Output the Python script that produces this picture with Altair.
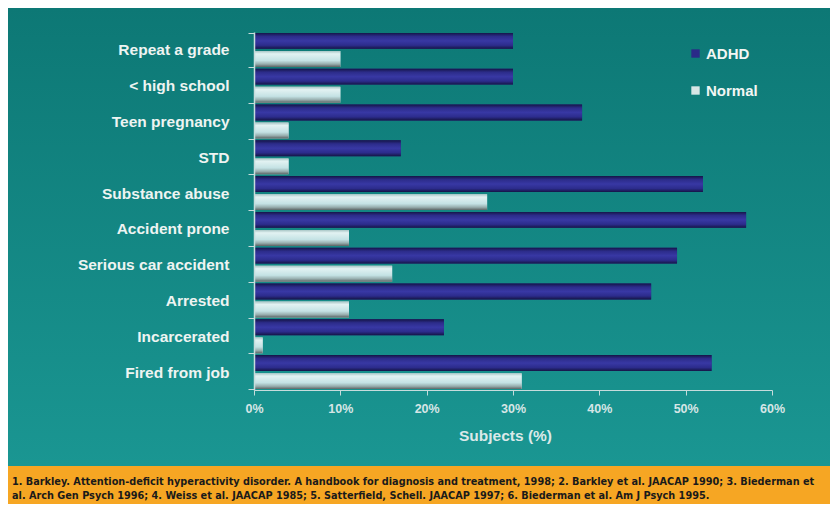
import altair as alt
import pandas as pd

categories = ["Repeat a grade", "< high school", "Teen pregnancy", "STD", "Substance abuse",
              "Accident prone", "Serious car accident", "Arrested", "Incarcerated", "Fired from job"]
adhd = [30, 30, 38, 17, 52, 57, 49, 46, 22, 53]
normal = [10, 10, 4, 4, 27, 11, 16, 11, 1, 31]
series = ["ADHD", "Normal"]
x_ticks = [0, 10, 20, 30, 40, 50, 60]

footer_lines = [
    "1. Barkley. Attention-deficit hyperactivity disorder. A handbook for diagnosis and treatment, 1998; 2. Barkley et al. JAACAP 1990; 3. Biederman et",
    "al. Arch Gen Psych 1996; 4. Weiss et al. JAACAP 1985; 5. Satterfield, Schell. JAACAP 1997; 6. Biederman et al. Am J Psych 1995.",
]

rows = []
for c, a, n in zip(categories, adhd, normal):
    rows.append({"cat": c, "series": "ADHD", "val": a})
    rows.append({"cat": c, "series": "Normal", "val": n})
df = pd.DataFrame(rows)

W, H = 518, 358
PL, PT, PR, PB = 246, 24, 58, 114

y_enc = alt.Y("cat:N", sort=categories, title=None,
              scale=alt.Scale(paddingInner=0.05, paddingOuter=0.025),
              axis=alt.Axis(tickBand="extent", labelPadding=19, tickSize=6, zindex=2))
yoff_enc = alt.YOffset("series:N", sort=series, scale=alt.Scale(paddingInner=0.12, paddingOuter=0.0))
x_enc = alt.X("val:Q", title="Subjects (%)",
              scale=alt.Scale(domain=[0, 60], nice=False),
              axis=alt.Axis(values=x_ticks, labelExpr="datum.value + '%'", grid=False,
                            labelFlush=False, tickSize=5, labelPadding=7, titlePadding=14,
                            titleX=251, zindex=2))

one = pd.DataFrame({"a": [0]})

bg = alt.Chart(one).mark_rect(
    color=alt.Gradient(gradient="linear", x1=0, x2=0, y1=0, y2=1,
                       stops=[alt.GradientStop(color="#0d7875", offset=0),
                              alt.GradientStop(color="#1a9692", offset=1)])
).encode(x=alt.value(-PL), x2=alt.value(W + PR), y=alt.value(-PT), y2=alt.value(434))

footer = alt.Chart(one).mark_rect(color="#f6a623").encode(
    x=alt.value(-PL), x2=alt.value(W + PR), y=alt.value(434), y2=alt.value(H + PB))

footer_font = "Liberation Sans Narrow, DejaVu Sans Condensed, Liberation Sans, sans-serif"
footer_l1 = alt.Chart(pd.DataFrame({"t": [footer_lines[0]]})).mark_text(
    align="left", baseline="middle", font=footer_font, fontSize=10.8,
    fontWeight="bold", color="#1a1a1a"
).encode(x=alt.value(-PL + 4), y=alt.value(450), text="t:N")
footer_l2 = alt.Chart(pd.DataFrame({"t": [footer_lines[1]]})).mark_text(
    align="left", baseline="middle", font=footer_font, fontSize=10.8,
    fontWeight="bold", color="#1a1a1a"
).encode(x=alt.value(-PL + 4), y=alt.value(464), text="t:N")

base = alt.Chart(df).mark_bar().encode(
    y=y_enc, yOffset=yoff_enc, x=x_enc,
    color=alt.Color("series:N", sort=series,
                    scale=alt.Scale(domain=series, range=["#2a2a88", "#d6e6e6"]),
                    legend=alt.Legend(title=None, orient="none", legendX=434, legendY=14,
                                      symbolType="square", symbolSize=70, rowPadding=21,
                                      labelFontSize=15, labelFontWeight="bold",
                                      labelColor="#f2f6f4", labelFont="Liberation Sans",
                                      symbolStrokeWidth=0, labelOffset=3, padding=0)),
)

adhd_grad = alt.Chart(df).transform_filter(alt.datum.series == "ADHD").mark_bar(
    color=alt.Gradient(gradient="linear", x1=0, x2=0, y1=0, y2=1,
                       stops=[alt.GradientStop(color="#151548", offset=0),
                              alt.GradientStop(color="#2c2c8a", offset=0.22),
                              alt.GradientStop(color="#3838a4", offset=0.5),
                              alt.GradientStop(color="#2c2c8c", offset=0.78),
                              alt.GradientStop(color="#151545", offset=1)])
).encode(y=y_enc, yOffset=yoff_enc, x=x_enc)

normal_grad = alt.Chart(df).transform_filter(alt.datum.series == "Normal").mark_bar(
    color=alt.Gradient(gradient="linear", x1=0, x2=0, y1=0, y2=1,
                       stops=[alt.GradientStop(color="#a9c6c6", offset=0),
                              alt.GradientStop(color="#e2f2f2", offset=0.18),
                              alt.GradientStop(color="#c4e2e4", offset=0.6),
                              alt.GradientStop(color="#97aeae", offset=0.82),
                              alt.GradientStop(color="#5c6464", offset=1)])
).encode(y=y_enc, yOffset=yoff_enc, x=x_enc)

chart = alt.layer(bg, footer, footer_l1, footer_l2, base, adhd_grad, normal_grad).properties(
    width=W, height=H,
    autosize=alt.AutoSizeParams(type="none"),
    padding={"left": PL, "top": PT, "right": PR, "bottom": PB},
    background="#137f7c",
).configure_view(stroke=None).configure_axis(
    domainColor="#c6dcdc", tickColor="#c6dcdc", labelFont="Liberation Sans", titleFont="Liberation Sans",
    labelFontWeight="bold", titleFontWeight="bold",
).configure_axisY(labelFontSize=15.5, labelColor="#eef4f2", domainWidth=1.5
).configure_axisX(labelFontSize=12.5, labelColor="#d6e6e6", titleFontSize=15.5, titleColor="#dbe9e9")

chart.save("out.html", embed_options={"renderer": "svg", "actions": False})
